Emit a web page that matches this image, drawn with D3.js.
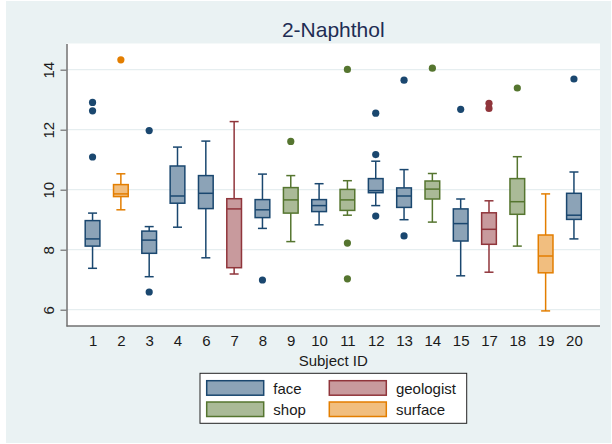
<!DOCTYPE html>
<html>
<head>
<meta charset="utf-8">
<script src="https://cdn.jsdelivr.net/npm/d3@7"></script>
<style>
  html, body { margin: 0; padding: 0; background: #ffffff; }
  svg { display: block; }
  text { font-family: "Liberation Sans", Arial, sans-serif; }
</style>
</head>
<body>
<div id="chart"></div>
<script>
// 2-Naphthol levels by subject, box plots coloured by exposure group
const subjectIds   = ["1","2","3","4","6","7","8","9","10","11","12","13","14","15","17","18","19","20"];
const groups       = ["face","surface","face","face","face","geologist","face","shop","face","shop","face","face","shop","face","geologist","shop","surface","face"];
const whiskerLow   = [7.38, 9.33, 7.10, 8.75, 7.73, 7.19, 8.71, 8.27, 8.83, 9.15, 9.47, 9.00, 8.92, 7.13, 7.25, 8.12, 5.96, 8.36];
const q1           = [8.12, 9.77, 7.88, 9.55, 9.37, 7.40, 9.07, 9.22, 9.27, 9.31, 9.90, 9.41, 9.69, 8.29, 8.18, 9.18, 7.23, 9.01];
const median       = [8.36, 9.86, 8.32, 9.79, 9.88, 9.36, 9.33, 9.66, 9.47, 9.66, 9.97, 9.79, 10.02, 8.87, 8.68, 9.60, 7.79, 9.15];
const q3           = [8.97, 10.17, 8.62, 10.79, 10.47, 9.70, 9.67, 10.07, 9.67, 10.01, 10.37, 10.06, 10.29, 9.36, 9.23, 10.37, 8.49, 9.88];
const whiskerHigh  = [9.22, 10.53, 8.77, 11.42, 11.62, 12.27, 10.52, 10.47, 10.20, 10.30, 10.95, 10.67, 10.54, 9.69, 9.63, 11.10, 9.86, 10.59];
const outliers     = [
  [12.91, 12.63, 11.09], [14.33], [11.97, 6.59], [], [], [], [6.99], [11.61], [],
  [14.01, 8.22, 7.03], [12.55, 11.17, 9.12], [13.65, 8.46], [14.05], [12.68],
  [12.88, 12.71], [13.39], [], [13.69]
];
const yTicks       = [6, 8, 10, 12, 14];
const groupNames   = ["face", "geologist", "shop", "surface"];
const groupStroke  = ["#1a476f", "#90353b", "#55752f", "#e37e00"];
const groupFill    = ["#8ca3b7", "#c89a9d", "#aaba97", "#f1be7f"];

const W = 612, H = 444;
const plot = { left: 66.5, right: 600, top: 43.5, bottom: 326 };

const svg = d3.select("#chart").append("svg")
  .attr("width", W).attr("height", H);

// outer background
svg.append("rect")
  .attr("x", 6).attr("y", 1).attr("width", W - 7).attr("height", H - 2)
  .attr("fill", "#eaf2f3");

// plot region
svg.append("rect")
  .attr("x", plot.left).attr("y", plot.top)
  .attr("width", plot.right - plot.left).attr("height", plot.bottom - plot.top)
  .attr("fill", "#ffffff");

const x = d3.scalePoint().domain(subjectIds).range([plot.left, plot.right]).padding(0.92);
const y = d3.scaleLinear().domain([5.457, 14.873]).range([plot.bottom, plot.top]);
const color = d3.scaleOrdinal().domain(groupNames).range(groupStroke);
const fill = d3.scaleOrdinal().domain(groupNames).range(groupFill);

// gridlines
svg.append("g").selectAll("line").data(yTicks).join("line")
  .attr("x1", plot.left).attr("x2", plot.right)
  .attr("y1", d => y(d)).attr("y2", d => y(d))
  .attr("stroke", "#e6eef0").attr("stroke-width", 1.2);

// y axis
const yAxis = svg.append("g")
  .attr("transform", `translate(${plot.left},0)`)
  .call(d3.axisLeft(y).tickValues(yTicks).tickSize(6).tickPadding(6).tickSizeOuter(0));
yAxis.select(".domain").attr("stroke", "#707070").attr("stroke-width", 1.5);
yAxis.selectAll(".tick line").attr("stroke", "#707070").attr("stroke-width", 1.2);
yAxis.selectAll(".tick text")
  .attr("font-size", 15).attr("fill", "#1a1a1a")
  .attr("text-anchor", "middle")
  .attr("dy", 0)
  .attr("transform", function () {
    return "translate(-13,0) rotate(-90)";
  })
  .attr("x", 0).attr("y", 0);

// x axis
const xAxis = svg.append("g")
  .attr("transform", `translate(0,${plot.bottom})`)
  .call(d3.axisBottom(x).tickSize(0).tickPadding(9));
xAxis.select(".domain").attr("stroke", "#707070").attr("stroke-width", 1.5)
  .attr("d", `M${plot.left},0H${plot.right}`);
xAxis.selectAll(".tick text").attr("font-size", 15).attr("fill", "#1a1a1a");

// axis title
svg.append("text")
  .attr("x", (plot.left + plot.right) / 2).attr("y", 366)
  .attr("text-anchor", "middle").attr("font-size", 15).attr("fill", "#1a1a1a")
  .text("Subject ID");

// chart title
svg.append("text")
  .attr("x", (plot.left + plot.right) / 2).attr("y", 37.3)
  .attr("text-anchor", "middle").attr("font-size", 21).attr("fill", "#1e2d53")
  .text("2-Naphthol");

// box plots
const boxes = subjectIds.map((id, i) => ({
  id, group: groups[i], lo: whiskerLow[i], q1: q1[i], med: median[i],
  q3: q3[i], hi: whiskerHigh[i], out: outliers[i]
}));

const boxW = 14.7, capW = 9;
const g = svg.append("g");
const b = g.selectAll("g.box").data(boxes).join("g").attr("class", "box")
  .attr("transform", d => `translate(${x(d.id)},0)`);

b.append("line")
  .attr("x1", 0).attr("x2", 0)
  .attr("y1", d => y(d.q3)).attr("y2", d => y(d.hi))
  .attr("stroke", d => color(d.group)).attr("stroke-width", 1.5);
b.append("line")
  .attr("x1", 0).attr("x2", 0)
  .attr("y1", d => y(d.q1)).attr("y2", d => y(d.lo))
  .attr("stroke", d => color(d.group)).attr("stroke-width", 1.5);
b.append("line")
  .attr("x1", -capW / 2).attr("x2", capW / 2)
  .attr("y1", d => y(d.hi)).attr("y2", d => y(d.hi))
  .attr("stroke", d => color(d.group)).attr("stroke-width", 1.5);
b.append("line")
  .attr("x1", -capW / 2).attr("x2", capW / 2)
  .attr("y1", d => y(d.lo)).attr("y2", d => y(d.lo))
  .attr("stroke", d => color(d.group)).attr("stroke-width", 1.5);
b.append("rect")
  .attr("x", -boxW / 2).attr("width", boxW)
  .attr("y", d => y(d.q3)).attr("height", d => y(d.q1) - y(d.q3))
  .attr("fill", d => fill(d.group))
  .attr("stroke", d => color(d.group)).attr("stroke-width", 1.5);
b.append("line")
  .attr("x1", -boxW / 2).attr("x2", boxW / 2)
  .attr("y1", d => y(d.med)).attr("y2", d => y(d.med))
  .attr("stroke", d => color(d.group)).attr("stroke-width", 1.5);
b.selectAll("circle").data(d => d.out.map(v => ({ v, group: d.group }))).join("circle")
  .attr("cx", 0).attr("cy", d => y(d.v)).attr("r", 3.6)
  .attr("fill", d => color(d.group));

// legend
const legend = svg.append("g");
legend.append("rect")
  .attr("x", 200).attr("y", 373.3).attr("width", 266.7).attr("height", 50)
  .attr("fill", "#ffffff").attr("stroke", "#222222").attr("stroke-width", 1);
const legendPos = [[206.7, 380.7], [329.3, 380.7], [206.7, 402], [329.3, 402]];
groupNames.forEach((name, i) => {
  const [lx, ly] = legendPos[i];
  legend.append("rect")
    .attr("x", lx).attr("y", ly).attr("width", 57).attr("height", 14.5)
    .attr("fill", fill(name)).attr("stroke", color(name)).attr("stroke-width", 1.5);
  legend.append("text")
    .attr("x", lx + 66.6).attr("y", ly + 13)
    .attr("font-size", 15).attr("fill", "#1a1a1a")
    .text(name);
});
</script>
</body>
</html>
